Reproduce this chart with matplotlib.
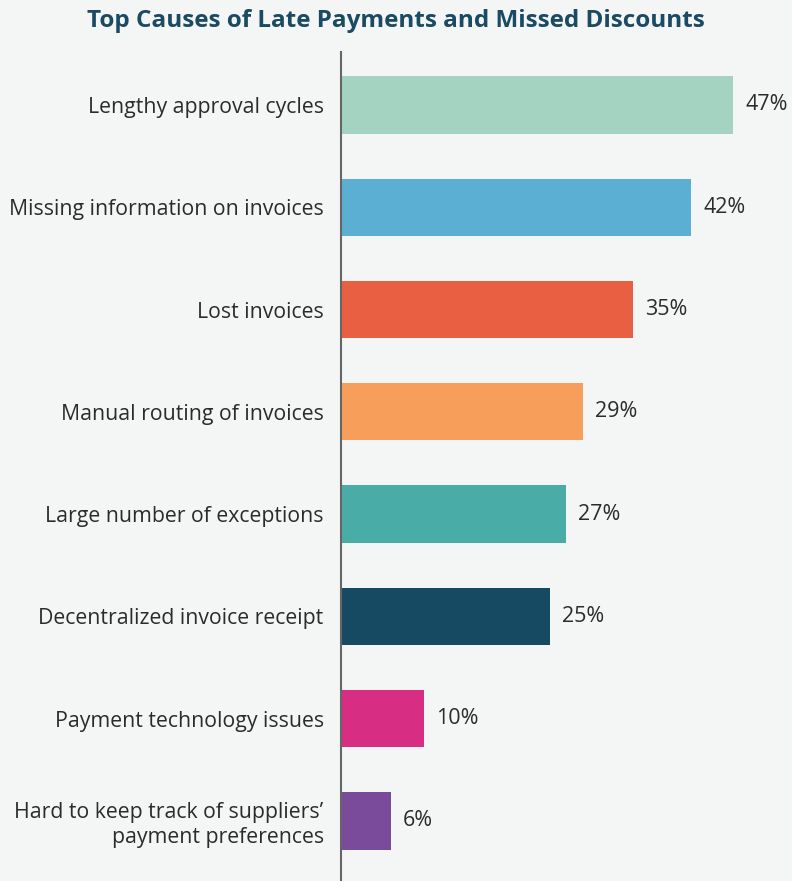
import matplotlib
matplotlib.use("Agg")
import matplotlib.pyplot as plt
import numpy as np

plt.rcParams["font.family"] = ["Open Sans", "DejaVu Sans"]

causes = ['Lengthy approval cycles',
          'Missing information on invoices',
          'Lost invoices',
          'Manual routing of invoices',
          'Large number of exceptions',
          'Decentralized invoice receipt',
          'Payment technology issues',
          "Hard to keep track of suppliers\u2019\npayment preferences"]
pct = [47, 42, 35, 29, 27, 25, 10, 6]
colors = ['#a4d3c1', '#5aafd3', '#e85f42', '#f79f5a',
          '#4aaca7', '#164a63', '#d72d83', '#7a4a9b']

bg = '#f4f6f5'
fig = plt.figure(figsize=(7.92, 8.81), dpi=100, facecolor=bg)
ax = fig.add_axes([341 / 792, 0, 451 / 792, 829 / 881])
ax.set_facecolor(bg)

y = np.arange(len(causes))
bars = ax.barh(y, pct, height=0.56, color=colors)

ax.set_xlim(0, 451 / 8.34)
ax.set_ylim(7.587, -0.518)

for rect, v in zip(bars, pct):
    ax.text(rect.get_width() + 1.45, rect.get_y() + rect.get_height() / 2,
            '{}%'.format(v), va='center', ha='left', fontsize=15.5, color='#2b2b2b')

ax.set_yticks(y)
ax.set_yticklabels(causes, fontsize=15.3, color='#2b2b2b', linespacing=1.2)
ax.tick_params(axis='y', length=0, pad=12.5)
ax.set_xticks([])
for s in ['top', 'right', 'bottom']:
    ax.spines[s].set_visible(False)
ax.spines['left'].set_color('#666666')
ax.spines['left'].set_linewidth(1.5)

fig.text(0.5, 1 - 21 / 881, 'Top Causes of Late Payments and Missed Discounts',
         ha='center', va='center', fontsize=17.5, fontweight='bold', color='#1b4a63')

fig.savefig('out.png', dpi=100, facecolor=bg)
